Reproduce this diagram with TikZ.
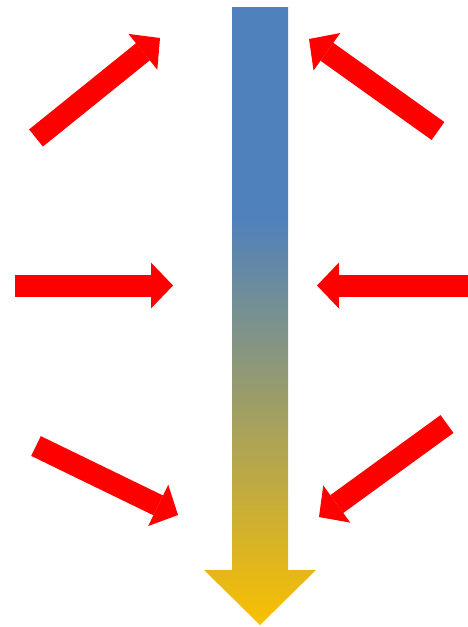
\documentclass[tikz,border=0pt]{standalone}
\usepackage{xcolor}
\usepackage{tikz}
\usetikzlibrary{arrows.meta}

\definecolor{shaftblue}{RGB}{79,129,189}
\definecolor{shaftgold}{RGB}{250,192,0}
\pgfdeclareverticalshading{shaftfade}{100bp}{color(0bp)=(shaftgold); color(25bp)=(shaftgold); color(58bp)=(shaftblue); color(100bp)=(shaftblue)}

\begin{document}
\begin{tikzpicture}[
            x=1pt, y=-1pt,
            push/.style={draw=red, line width=22pt, -{Triangle[length=22pt, width=46pt, line width=0pt]}},
            flow/.style={shading=shaftfade, draw=none}
        ]
        \useasboundingbox (0,0) rectangle (468,627);

        % Central flow arrow
        \coordinate (flowtip) at (260,625);
        \path [flow] (232,7) -- (288,7) -- (288,570) -- (316,570) -- (flowtip) -- (204,570) -- (232,570) -- cycle;

        % Anchor points of the red arrows
        \coordinate (nw-tail) at (36,138);    \coordinate (nw-head) at (160,38);
        \coordinate (ne-tail) at (438,131);   \coordinate (ne-head) at (309,39);
        \coordinate (w-tail) at (15,285.5);   \coordinate (w-head) at (173,285.5);
        \coordinate (e-tail) at (468,285.5);  \coordinate (e-head) at (317,285.5);
        \coordinate (sw-tail) at (36,446);    \coordinate (sw-head) at (178,515);
        \coordinate (se-tail) at (447,424);   \coordinate (se-head) at (319,517);

        % Red arrows
        \draw [push] (nw-tail) -- (nw-head);
        \draw [push] (ne-tail) -- (ne-head);
        \draw [push] (w-tail) -- (w-head);
        \draw [push] (e-tail) -- (e-head);
        \draw [push] (sw-tail) -- (sw-head);
        \draw [push] (se-tail) -- (se-head);

    \end{tikzpicture}
\end{document}
